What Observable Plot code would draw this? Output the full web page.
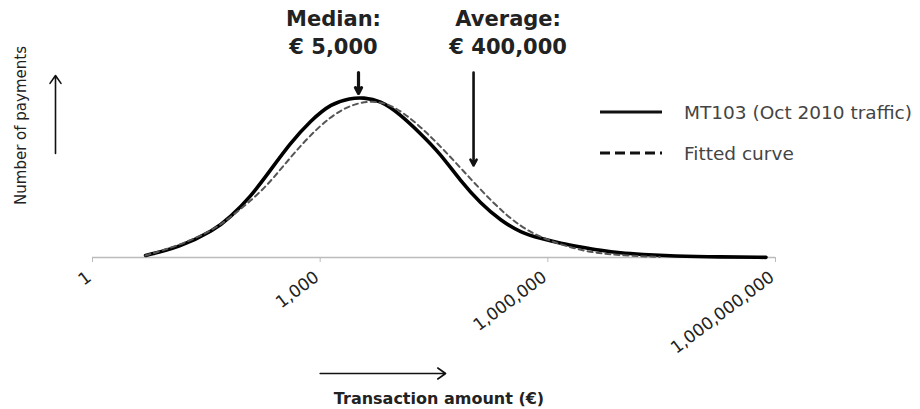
<!DOCTYPE html>
<html>
<head>
<meta charset="utf-8">
<script src="https://cdn.jsdelivr.net/npm/d3@7"></script>
<script src="https://cdn.jsdelivr.net/npm/@observablehq/plot@0.6"></script>
<style>
  html, body { margin: 0; padding: 0; background: #fff; }
  #wrap { position: relative; width: 920px; height: 409px; font-family: "DejaVu Sans", sans-serif; }
  .leg { position: absolute; left: 600px; height: 24px; display: flex; align-items: center; }
  .leg span { margin-left: 22px; font-size: 18.5px; color: #444; white-space: nowrap; }
</style>
</head>
<body>
<div id="wrap"></div>
<script>
// MT103 (Oct 2010 traffic): transaction amount (EUR) vs relative number of payments
const amountsMT103 = [5, 14, 40, 65, 120, 220, 400, 750, 1400, 2500, 3700, 6200, 11000, 21000, 38000, 70000, 130000, 240000, 440000, 800000, 1500000, 2700000, 5000000, 9000000, 17000000, 45000000, 190000000, 750000000];
const paymentsMT103 = [1.3, 6.4, 16.9, 25.2, 37.7, 54.4, 71.3, 85.6, 96.3, 99.6, 100, 98.1, 90, 77.5, 65, 48.1, 33.8, 23.1, 15.6, 11.9, 8.8, 6.6, 4.4, 2.8, 1.9, 0.9, 0.3, 0.1];

// Fitted curve
const amountsFit = [5, 14, 40, 65, 180, 400, 920, 2000, 4600, 9800, 26000, 70000, 190000, 440000, 990000, 3300000, 9900000, 30000000];
const paymentsFit = [1.3, 7.5, 17.5, 25, 41.9, 62.5, 81.3, 93.8, 98.8, 95, 78.1, 56.3, 33.8, 18.8, 10.6, 3.1, 1.3, 0.3];

// Axis ticks
const tickValues = [1, 1e3, 1e6, 1e9];
const tickLabels = ["1", "1,000", "1,000,000", "1,000,000,000"];

// Annotations (arrow amounts as drawn, label amounts as drawn)
const annotationText = ["Median:\n€ 5,000", "Average:\n€ 400,000"];
const annotationLabelAmounts = [1500, 300000];
const annotationArrowAmounts = [3200, 105000];
const annotationArrowTips = [102.5, 57.5];

const seriesNames = ["MT103 (Oct 2010 traffic)", "Fitted curve"];

const mt = amountsMT103.map((a, i) => ({amount: a, payments: paymentsMT103[i]}));
const fit = amountsFit.map((a, i) => ({amount: a, payments: paymentsFit[i]}));

const chart = Plot.plot({
  width: 920,
  height: 409,
  marginLeft: 92,
  marginRight: 145,
  marginTop: 97,
  marginBottom: 152,
  x: {type: "log", domain: [1, 1e9], axis: null},
  y: {domain: [0, 100], axis: null},
  style: {fontFamily: "DejaVu Sans, sans-serif", background: "white", overflow: "visible"},
  marks: [
    Plot.ruleY([0], {stroke: "#bbb", strokeWidth: 1.3}),
    Plot.axisX({ticks: tickValues, tickSize: 5, tickFormat: () => "", stroke: "#bbb", label: null}),
    Plot.text(tickValues, {
      x: d => d, frameAnchor: "bottom", text: (d, i) => tickLabels[i],
      rotate: -37, textAnchor: "end", lineAnchor: "bottom",
      dx: 0, dy: 22, fontSize: 17, fill: "#222"
    }),
    Plot.line(mt, {x: "amount", y: "payments", stroke: "#000", strokeWidth: 3.6, curve: "basis"}),
    Plot.line(fit, {x: "amount", y: "payments", stroke: "#555", strokeWidth: 2, strokeDasharray: "5,4", curve: "basis"}),
    Plot.arrow(annotationArrowAmounts, {
      x: d => d, y1: 115.6, y2: (d, i) => annotationArrowTips[i],
      stroke: "#111", strokeWidth: (d, i) => i === 0 ? 3.2 : 2.6,
      headLength: 10, headAngle: 55
    }),
    Plot.text(annotationLabelAmounts, {
      x: d => d, frameAnchor: "top", text: (d, i) => annotationText[i],
      textAnchor: "middle", lineAnchor: "bottom", lineHeight: 1.333,
      dy: -44, fontSize: 21, fontWeight: "bold", fill: "#222"
    }),
    // y-axis direction arrow and label
    Plot.arrow([0], {x: 1, y1: 65, y2: 113.75, dx: -37, stroke: "#111", strokeWidth: 1.6, headLength: 9, headAngle: 70}),
    Plot.text(["Number of payments"], {
      frameAnchor: "left", text: d => d, rotate: -90, textAnchor: "middle", lineAnchor: "middle",
      dx: -71, dy: -52, fontSize: 15, fill: "#222"
    }),
    // x-axis direction arrow and label
    Plot.arrow([0], {x1: 1000, x2: 45000, y: -72.5, stroke: "#111", strokeWidth: 1.6, headLength: 9, headAngle: 70}),
    Plot.text(["Transaction amount (€)"], {
      frameAnchor: "bottom", text: d => d, textAnchor: "middle", lineAnchor: "bottom",
      dx: 5, dy: 146, fontSize: 16, fontWeight: "bold", fill: "#222"
    })
  ]
});

const wrap = document.getElementById("wrap");
wrap.appendChild(chart);

// Legend
const legendStyles = [{dash: null, width: 2.8, color: "#111", top: 100}, {dash: "10,5", width: 3, color: "#111", top: 141}];
seriesNames.forEach((name, i) => {
  const s = legendStyles[i];
  const row = document.createElement("div");
  row.className = "leg";
  row.style.top = s.top + "px";
  row.innerHTML = `<svg width="62" height="24"><line x1="0" x2="62" y1="12" y2="12" stroke="${s.color}" stroke-width="${s.width}" ${s.dash ? `stroke-dasharray="${s.dash}"` : ""}/></svg><span>${name}</span>`;
  wrap.appendChild(row);
});
</script>
</body>
</html>
